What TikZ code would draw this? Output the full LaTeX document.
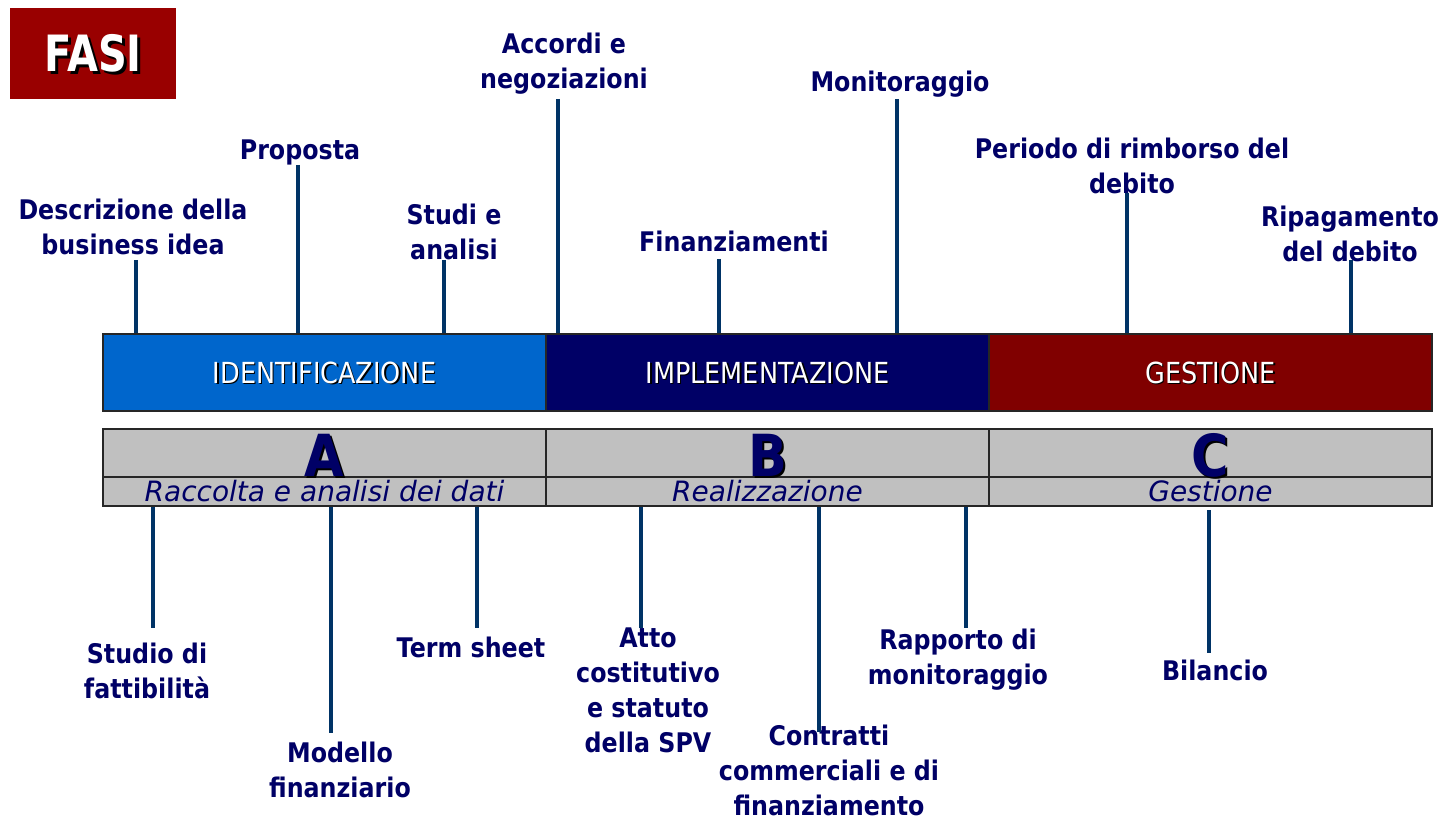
\documentclass[tikz,border=0pt]{standalone}
\usepackage{fontspec}
\setmainfont{DejaVu Sans}[FakeStretch=0.88]
\newfontfamily\subfont{DejaVu Sans}
\newfontfamily\fasifont{DejaVu Sans}[FakeStretch=0.8]
\definecolor{fasired}{RGB}{153,0,0}
\definecolor{idblue}{RGB}{0,102,204}
\definecolor{imnavy}{RGB}{0,0,102}
\definecolor{gemaroon}{RGB}{128,0,0}
\definecolor{cellgray}{RGB}{192,192,192}
\definecolor{navytxt}{RGB}{0,0,102}
\definecolor{conncol}{RGB}{0,51,102}
\newcommand\shd[3]{\leavevmode\rlap{\smash{\kern#2\raisebox{-#2}{\textcolor{#1}{#3}}}}#3}
\begin{document}
\begin{tikzpicture}[x=1pt,y=-1pt,
  lbl/.style={text=navytxt, font=\bfseries\fontsize{27}{35}\selectfont, align=center, inner sep=0pt},
  conn/.style={draw=conncol, line width=4.5pt},
  bar/.style={draw=black!85, line width=2pt, minimum height=77pt, minimum width=443pt, inner sep=0pt, text=white, font=\fontsize{29}{29}\selectfont},
  cell/.style={draw=black!85, line width=2pt, fill=cellgray, inner sep=0pt, minimum width=443pt},
  letter/.style={cell, minimum height=48pt},
  lettxt/.style={inner sep=0pt, text=navytxt, font=\bfseries\fontsize{58}{58}\selectfont},
  sub/.style={cell, minimum height=29pt, text=navytxt, font=\subfont\itshape\fontsize{28}{28}\selectfont}]
\useasboundingbox (0,0) rectangle (1444,818);

% title
\node[fill=fasired, minimum width=166pt, minimum height=91pt, inner sep=0pt, text=white,
      font=\fasifont\bfseries\fontsize{50}{50}\selectfont] (fasi) at (93,53.5) {\shd{black}{3pt}{FASI}};

% phase bar
\node[bar, fill=idblue]   (idn) at (324.5,372.5) {\shd{black}{1.5pt}{IDENTIFICAZIONE}};
\node[bar, fill=imnavy]   (imp) at (767.5,372.5) {\shd{black}{1.5pt}{IMPLEMENTAZIONE}};
\node[bar, fill=gemaroon] (ges) at (1210.5,372.5) {\shd{black}{1.5pt}{GESTIONE}};

% letter cells
\node[letter] (la) at (324.5,453) {};
\node[letter] (lb) at (767.5,453) {};
\node[letter] (lc) at (1210.5,453) {};
\node[sub] (sa) at (324.5,491.5) {Raccolta e analisi dei dati};
\node[sub] (sb) at (767.5,491.5) {Realizzazione};
\node[sub] (sc) at (1210.5,491.5) {Gestione};
\node[lettxt, anchor=base] (ta) at (324.5,476) {\shd{black}{2pt}{A}};
\node[lettxt, anchor=base] (tb) at (767.5,476) {\shd{black}{2pt}{B}};
\node[lettxt, anchor=base] (tc) at (1210.5,476) {\shd{black}{2pt}{C}};

% top labels
\node[lbl, anchor=north] (t1) at (133,198.5) {Descrizione della\\business idea};
\node[lbl, anchor=base]  (t2) at (300,160) {Proposta};
\node[lbl, anchor=north] (t3) at (454,203.5) {Studi e\\analisi};
\node[lbl, anchor=north] (t4) at (564,32.5) {Accordi e\\negoziazioni};
\node[lbl, anchor=base]  (t5) at (734,252) {Finanziamenti};
\node[lbl, anchor=base]  (t6) at (900,92) {Monitoraggio};
\node[lbl, anchor=north] (t7) at (1132,137.5) {Periodo di rimborso del\\debito};
\node[lbl, anchor=north] (t8) at (1350,205.5) {Ripagamento\\del debito};

% bottom labels
\node[lbl, anchor=north] (b1) at (147,642.5) {Studio di\\fattibilità};
\node[lbl, anchor=north] (b2) at (340,741.5) {Modello\\finanziario};
\node[lbl, anchor=base]  (b3) at (471,657) {Term sheet};
\node[lbl, anchor=north] (b4) at (648,627.5) {Atto\\costitutivo\\e statuto\\della SPV};
\node[lbl, anchor=north] (b5) at (829,724.5) {Contratti\\commerciali e di\\finanziamento};
\node[lbl, anchor=north] (b6) at (958,628.5) {Rapporto di\\monitoraggio};
\node[lbl, anchor=base]  (b7) at (1215,680) {Bilancio};

% connector ends
\coordinate (k1) at (136,260);
\coordinate (k2) at (298,165);
\coordinate (k3) at (444,260);
\coordinate (k4) at (558,99);
\coordinate (k5) at (719,259);
\coordinate (k6) at (897,99);
\coordinate (k7) at (1127,193);
\coordinate (k8) at (1351,260);
\coordinate (m1) at (153,628);
\coordinate (m2) at (331,733);
\coordinate (m3) at (477,628);
\coordinate (m4) at (641,628);
\coordinate (m5) at (819,732);
\coordinate (m6) at (966,628);
\coordinate (m7) at (1209,653);
\coordinate (m7s) at (1209,510);

\draw[conn] (k1) -- (k1 |- idn.north);
\draw[conn] (k2) -- (k2 |- idn.north);
\draw[conn] (k3) -- (k3 |- idn.north);
\draw[conn] (k4) -- (k4 |- imp.north);
\draw[conn] (k5) -- (k5 |- imp.north);
\draw[conn] (k6) -- (k6 |- imp.north);
\draw[conn] (k7) -- (k7 |- ges.north);
\draw[conn] (k8) -- (k8 |- ges.north);

\draw[conn] (m1 |- sa.south) -- (m1);
\draw[conn] (m2 |- sa.south) -- (m2);
\draw[conn] (m3 |- sa.south) -- (m3);
\draw[conn] (m4 |- sb.south) -- (m4);
\draw[conn] (m5 |- sb.south) -- (m5);
\draw[conn] (m6 |- sb.south) -- (m6);
\draw[conn] (m7s) -- (m7);
\end{tikzpicture}
\end{document}
